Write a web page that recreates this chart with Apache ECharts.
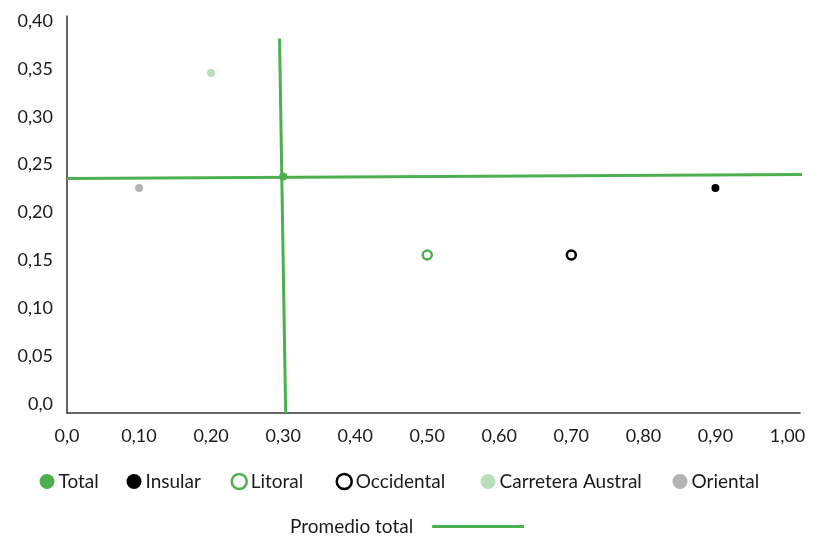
<!DOCTYPE html>
<html>
<head>
<meta charset="utf-8">
<script src="https://cdn.jsdelivr.net/npm/echarts@6/dist/echarts.min.js"></script>
<style>
  html, body { margin: 0; padding: 0; background: #fff; }
  #chart { width: 814px; height: 536px; }
</style>
</head>
<body>
<div id="chart"></div>
<script>
// ---- data ----
const regions = ['Total', 'Insular', 'Litoral', 'Occidental', 'Carretera Austral', 'Oriental'];
const xValues = [0.30, 0.90, 0.50, 0.70, 0.20, 0.10];
const yValues = [0.247, 0.235, 0.165, 0.165, 0.355, 0.235];
const avgName = 'Promedio total';
const avgHorizontalX = [0, 1.031];
const avgHorizontalY = [0.245, 0.249];
const avgVerticalX = [0.295, 0.3035];
const avgVerticalY = [0.391, 0];
const xTicks = [0, 0.1, 0.2, 0.3, 0.4, 0.5, 0.6, 0.7, 0.8, 0.9, 1.0];
const yTicks = [0, 0.05, 0.1, 0.15, 0.2, 0.25, 0.3, 0.35, 0.4];

// ---- styles ----
const GREEN = '#4caf50';
const styles = {
  'Total': { color: GREEN, opacity: 1 },
  'Insular': { color: '#000000', opacity: 1 },
  'Litoral': { color: '#ffffff', borderColor: GREEN, borderWidth: 2.5, opacity: 1 },
  'Occidental': { color: '#ffffff', borderColor: '#000000', borderWidth: 2.5, opacity: 1 },
  'Carretera Austral': { color: '#b6dfb8', opacity: 1 },
  'Oriental': { color: '#b3b3b3', opacity: 1 }
};
const sizes = { 'Total': 8, 'Insular': 8, 'Litoral': 9, 'Occidental': 9, 'Carretera Austral': 8, 'Oriental': 8 };
// legend icon centres (px) for each region item
const legendCenters = { 'Total': 42, 'Insular': 129, 'Litoral': 233, 'Occidental': 338, 'Carretera Austral': 483, 'Oriental': 675 };
const FONT = 'Lato';
const fmt = v => (Math.abs(v) < 1e-9 ? '0,0' : v.toFixed(2).replace('.', ','));

const scatterSeries = regions.map((r, i) => ({
  name: r,
  type: 'scatter',
  symbol: 'circle',
  symbolSize: sizes[r],
  z: r === 'Total' ? 5 : 3,
  itemStyle: styles[r],
  data: [[xValues[i], yValues[i]]]
}));

const lineStyle = { color: GREEN, width: 3 };
const lineSeries = [
  {
    name: avgName, type: 'line', symbol: 'none', clip: false, z: 2,
    lineStyle: lineStyle, itemStyle: { color: GREEN },
    data: avgHorizontalX.map((x, i) => [x, avgHorizontalY[i]])
  },
  {
    name: avgName, type: 'line', symbol: 'none', clip: false, z: 2,
    lineStyle: lineStyle, itemStyle: { color: GREEN },
    data: avgVerticalX.map((x, i) => [x, avgVerticalY[i]])
  }
];

const ICON = 15;
const regionLegends = regions.map(r => ({
  left: legendCenters[r] - ICON / 2,
  top: 467,
  itemWidth: ICON, itemHeight: ICON,
  selectedMode: false,
  textStyle: { fontFamily: FONT, fontSize: 19, color: '#1a1a1a', padding: [0, 0, 0, -1] },
  data: [{ name: r, icon: 'circle', itemStyle: styles[r] }]
}));

const chart = echarts.init(document.getElementById('chart'), null, { renderer: 'canvas' });
chart.setOption({
  animation: false,
  backgroundColor: '#ffffff',
  textStyle: { fontFamily: FONT },
  grid: { left: 67, right: 14, top: 16, bottom: 123, containLabel: false },
  xAxis: {
    type: 'value',
    min: xTicks[0],
    max: 1.0174,
    interval: 0.1,
    splitLine: { show: false },
    axisTick: { show: false },
    axisLine: { show: true, lineStyle: { color: '#333', width: 1.5 } },
    axisLabel: {
      showMaxLabel: false,
      margin: 14,
      fontFamily: FONT, fontSize: 18, color: '#1a1a1a',
      formatter: v => (xTicks.some(t => Math.abs(t - v) < 1e-6) ? fmt(v) : '')
    }
  },
  yAxis: {
    type: 'value',
    min: yTicks[0],
    max: 0.4146,
    interval: 0.05,
    splitLine: { show: false },
    axisTick: { show: false },
    axisLine: { show: true, lineStyle: { color: '#333', width: 1.5 } },
    axisLabel: {
      showMaxLabel: false,
      margin: 14,
      verticalAlign: 'bottom',
      fontFamily: FONT, fontSize: 18, color: '#1a1a1a',
      formatter: v => (yTicks.some(t => Math.abs(t - v) < 1e-6) ? fmt(v) : '')
    }
  },
  legend: [
    ...regionLegends,
    {
      left: 285, top: 512,
      align: 'right',
      selectedMode: false,
      itemWidth: 92, itemHeight: 3,
      textStyle: { fontFamily: FONT, fontSize: 19, color: '#1a1a1a', padding: [0, 14, 0, 0] },
      data: [{ name: avgName, icon: 'rect', itemStyle: { color: GREEN } }]
    }
  ],
  series: [...lineSeries, ...scatterSeries]
});
</script>
</body>
</html>
